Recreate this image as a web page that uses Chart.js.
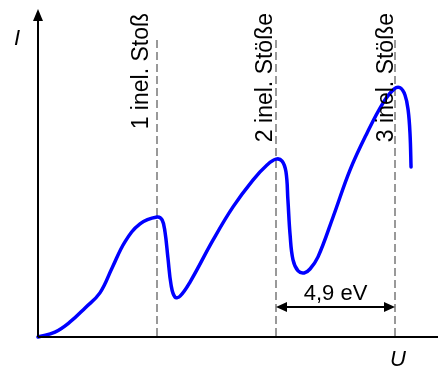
<!DOCTYPE html>
<html>
<head>
<meta charset="utf-8">
<script src="https://cdn.jsdelivr.net/npm/chart.js@4"></script>
<style>
  html, body { margin: 0; padding: 0; background: #fff; }
  #wrap { width: 438px; height: 368px; }
</style>
</head>
<body>
<div id="wrap"><canvas id="fhChart"></canvas></div>
<script>
// Franck-Hertz Kurve: Strom I ueber Spannung U (willkuerliche Einheiten fuer I)
var spannungU = [0, 0.70, 1.32, 1.94, 2.55, 3.05, 3.58, 4.20, 4.90, 5.11, 5.23, 5.35, 5.48, 5.64, 5.85, 6.26, 7.21, 8.03, 8.85, 9.43, 9.80, 10.05, 10.21, 10.29, 10.38, 10.50, 10.71, 10.96, 11.20, 11.53, 12.15, 12.85, 13.55, 14.21, 14.66, 14.91, 15.11, 15.24, 15.32, 15.36];
var stromI   = [0, 1.5, 4.6, 8.9, 13.5, 21.1, 29.1, 34.6, 36.7, 35.8, 32.1, 24.2, 15.9, 12.2, 12.5, 16.8, 29.7, 39.8, 48.0, 52.6, 54.4, 53.8, 50.5, 41.9, 31.2, 23.6, 20.2, 19.6, 20.8, 24.5, 36.7, 51.1, 62.4, 71.6, 75.8, 76.2, 74.0, 69.4, 61.8, 52.0];

var stossU = [4.9, 9.8, 14.7];
var stossLabels = ['1 inel. Stoß', '2 inel. Stöße', '3 inel. Stöße'];
var abstandLabel = '4,9 eV';
var achseX = 'U';
var achseY = 'I';

var punkte = spannungU.map(function (u, i) { return { x: u, y: stromI[i] }; });

var schrift = '"Liberation Sans", Arial, sans-serif';

// Achsen, gestrichelte Linien und Beschriftungen
var deko = {
    id: 'deko',
    beforeDatasetsDraw: function (chart) {
        var ctx = chart.ctx;
        var xs = chart.scales.x, ys = chart.scales.y;
        var y0 = ys.getPixelForValue(0);
        ctx.save();
        ctx.strokeStyle = '#999999';
        ctx.lineWidth = 2;
        ctx.setLineDash([8, 4]);
        stossU.forEach(function (u) {
            var px = Math.round(xs.getPixelForValue(u));
            ctx.beginPath();
            ctx.moveTo(px, 40);
            ctx.lineTo(px, y0);
            ctx.stroke();
        });
        ctx.restore();
    },
    afterDatasetsDraw: function (chart) {
        var ctx = chart.ctx;
        var xs = chart.scales.x, ys = chart.scales.y;
        var x0 = xs.getPixelForValue(0);
        var y0 = ys.getPixelForValue(0);
        ctx.save();
        ctx.strokeStyle = 'black';
        ctx.fillStyle = 'black';
        ctx.lineWidth = 2;
        // x-Achse
        ctx.beginPath();
        ctx.moveTo(x0, y0);
        ctx.lineTo(chart.width, y0);
        ctx.stroke();
        // y-Achse mit Pfeil
        ctx.beginPath();
        ctx.moveTo(x0, y0);
        ctx.lineTo(x0, 18);
        ctx.stroke();
        ctx.beginPath();
        ctx.moveTo(x0, 9);
        ctx.lineTo(x0 - 5, 21);
        ctx.lineTo(x0 + 5, 21);
        ctx.closePath();
        ctx.fill();

        // Achsenbeschriftung
        ctx.font = 'italic 22px ' + schrift;
        ctx.textAlign = 'left';
        ctx.textBaseline = 'alphabetic';
        ctx.fillText(achseY, 14, 45);
        ctx.fillText(achseX, 390, 366);

        // gedrehte Beschriftungen
        var versatz = [-9, -4, -2];
        ctx.font = '23px ' + schrift;
        stossU.forEach(function (u, i) {
            var px = xs.getPixelForValue(u) + versatz[i];
            ctx.save();
            ctx.translate(px, 13);
            ctx.rotate(-Math.PI / 2);
            ctx.textAlign = 'right';
            ctx.textBaseline = 'alphabetic';
            ctx.fillText(stossLabels[i], 0, 0);
            ctx.restore();
        });

        // Doppelpfeil 4,9 eV
        var a = xs.getPixelForValue(stossU[1]);
        var b = xs.getPixelForValue(stossU[2]);
        var ya = 307;
        ctx.lineWidth = 2;
        ctx.beginPath();
        ctx.moveTo(a + 6, ya);
        ctx.lineTo(b - 6, ya);
        ctx.stroke();
        ctx.beginPath();
        ctx.moveTo(a, ya);
        ctx.lineTo(a + 11, ya - 5);
        ctx.lineTo(a + 11, ya + 5);
        ctx.closePath();
        ctx.fill();
        ctx.beginPath();
        ctx.moveTo(b, ya);
        ctx.lineTo(b - 11, ya - 5);
        ctx.lineTo(b - 11, ya + 5);
        ctx.closePath();
        ctx.fill();
        ctx.font = '22px ' + schrift;
        ctx.textAlign = 'center';
        ctx.fillText(abstandLabel, (a + b) / 2, 300);
        ctx.restore();
    }
};

var fhChart = new Chart(document.getElementById('fhChart'), {
    type: 'scatter',
    data: {
        datasets: [{
            data: punkte,
            showLine: true,
            borderColor: '#0000ff',
            borderWidth: 3.5,
            borderCapStyle: 'round',
            borderJoinStyle: 'round',
            tension: 0.4,
            pointRadius: 0,
            fill: false,
            clip: false
        }]
    },
    options: {
        responsive: true,
        maintainAspectRatio: false,
        animation: false,
        layout: { padding: { left: 38, right: 0, top: 10, bottom: 31 } },
        plugins: {
            legend: { display: false },
            tooltip: { enabled: false }
        },
        scales: {
            x: { type: 'linear', min: 0, max: 16.47, display: false },
            y: { min: 0, max: 100, display: false }
        }
    },
    plugins: [deko]
});
</script>
</body>
</html>
